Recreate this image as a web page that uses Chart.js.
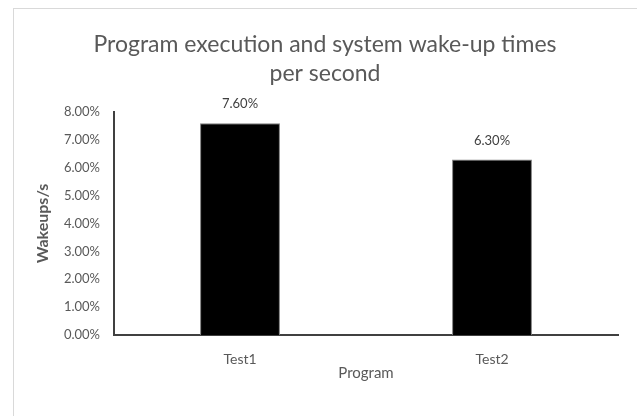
<!DOCTYPE html>
<html>
<head>
<meta charset="utf-8">
<script src="https://cdn.jsdelivr.net/npm/chart.js@4"></script>
<style>
  html, body { margin: 0; padding: 0; background: #fff; }
  #wrap { width: 637px; height: 416px; position: relative; }
</style>
</head>
<body>
<div id="wrap"><canvas id="chart"></canvas></div>
<script>
// ── Data ──────────────────────────────────────────────
const categories = ['Test1', 'Test2'];
const wakeups    = [0.076, 0.063];
const yTicks     = [0, 0.01, 0.02, 0.03, 0.04, 0.05, 0.06, 0.07, 0.08];

const FONT = 'Lato, "Liberation Sans", sans-serif';
const pct  = v => (v * 100).toFixed(2) + '%';

// light frame like the office chart area
const framePlugin = {
  id: 'frame',
  afterLayout(chart) {
    // centre the title over the whole frame, not the padded area
    const t = chart.titleBlock;
    if (t) { t.left = 13; t.right = 637; t.width = 624; }
  },
  beforeDraw(chart) {
    const c = chart.ctx;
    c.save();
    c.strokeStyle = '#d9d9d9';
    c.lineWidth = 1;
    c.strokeRect(13.5, 8.5, 700, 500);
    c.restore();
  }
};

// value labels above bars
const valueLabels = {
  id: 'valueLabels',
  afterDatasetsDraw(chart) {
    const c = chart.ctx;
    const meta = chart.getDatasetMeta(0);
    c.save();
    c.font = '13px ' + FONT;
    c.fillStyle = '#404040';
    c.textAlign = 'center';
    c.textBaseline = 'middle';
    meta.data.forEach((bar, i) => {
      c.fillText(pct(wakeups[i]), bar.x, bar.y - 19);
    });
    c.restore();
  }
};

new Chart(document.getElementById('chart'), {
  type: 'bar',
  data: {
    labels: categories,
    datasets: [{
      data: wakeups,
      backgroundColor: '#000000',
      borderColor: '#7f7f7f',
      borderWidth: 1,
      categoryPercentage: 1,
      barPercentage: 0.317
    }]
  },
  options: {
    responsive: true,
    maintainAspectRatio: false,
    animation: false,
    layout: { padding: { left: 0, right: 19, top: 0, bottom: 0 } },
    plugins: {
      legend: { display: false },
      tooltip: { enabled: false },
      title: {
        display: true,
        text: ['Program execution and system wake-up times', 'per second'],
        color: '#595959',
        font: { family: FONT, size: 23, weight: 'normal', lineHeight: 1.22 },
        padding: { top: 31, bottom: 25 }
      }
    },
    scales: {
      x: {
        grid: { display: false, drawTicks: false },
        border: { display: true, color: '#404040', width: 2 },
        ticks: { color: '#595959', font: { family: FONT, size: 14 }, padding: 16 },
        title: {
          display: true, text: 'Program', color: '#595959',
          font: { family: FONT, size: 15 }, padding: { top: 0, bottom: 34 }
        },
        afterFit: s => { s.height = 81; }
      },
      y: {
        min: 0, max: 0.08,
        afterBuildTicks: s => { s.ticks = yTicks.map(v => ({ value: v })); },
        grid: { display: false, drawTicks: false },
        border: { display: true, color: '#404040', width: 2 },
        ticks: { color: '#595959', font: { family: FONT, size: 13 }, padding: 14, callback: v => pct(v) },
        title: {
          display: true, text: 'Wakeups/s', color: '#595959',
          font: { family: FONT, size: 16, weight: 'bold' }, padding: { top: 33, bottom: 0 }
        },
        afterFit: s => { s.width = 114; }
      }
    }
  },
  plugins: [framePlugin, valueLabels]
});
</script>
</body>
</html>
